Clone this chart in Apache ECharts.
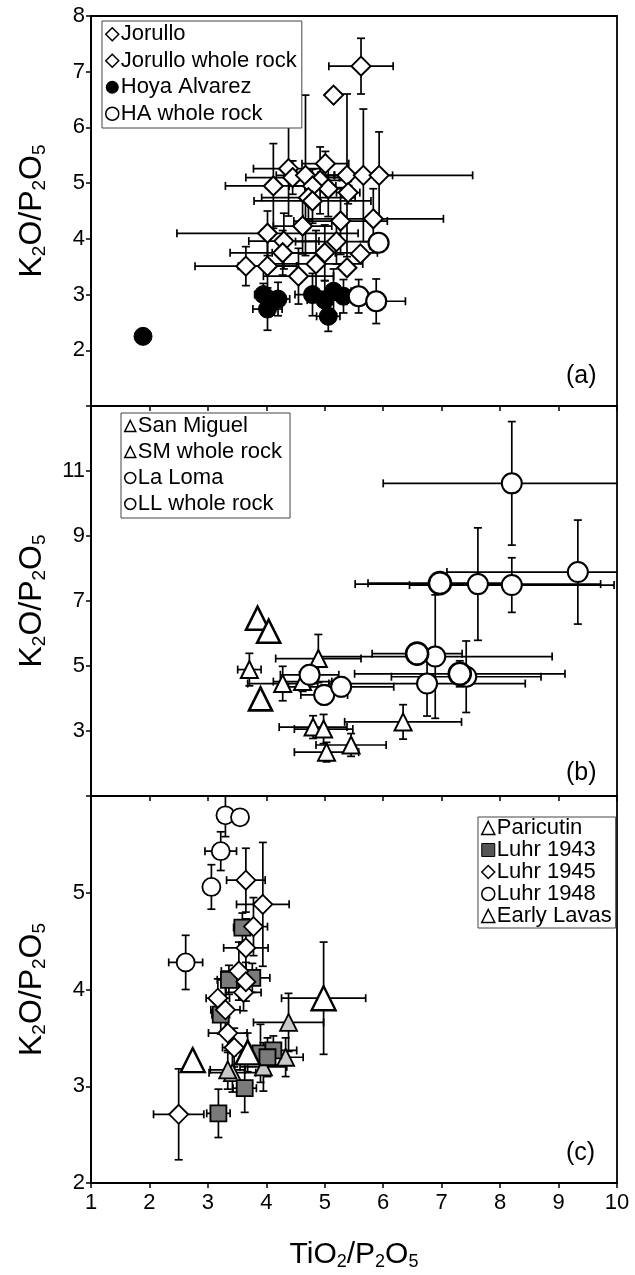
<!DOCTYPE html>
<html><head><meta charset="utf-8">
<script src="https://cdn.jsdelivr.net/npm/echarts@6/dist/echarts.min.js"></script>
<style>html,body{margin:0;padding:0;background:#fff}#c{width:635px;height:1275px}</style>
</head><body><div id="c"></div>
<script>
// ---------- tick labels ----------
const xTickLabels = [1, 2, 3, 4, 5, 6, 7, 8, 9, 10];
const yTickLabelsA = [2, 3, 4, 5, 6, 7, 8];
const yTickLabelsB = [3, 5, 7, 9, 11];
const yTickLabelsC = [2, 3, 4, 5];
const panelLabels = ['(a)', '(b)', '(c)'];

// ---------- data: [TiO2/P2O5, K2O/P2O5, xErr, yErr] ----------
// Panel (a)
const jorullo = [
  [5.62, 7.10, 0.55, 0.50], [4.12, 4.95, 0.82, 0.76], [4.38, 5.26, 0.60, 0.85],
  [4.45, 5.10, 0.80, 0.30], [4.67, 5.14, 0.50, 1.44], [5.01, 5.35, 0.40, 0.22],
  [5.38, 5.14, 0.50, 1.46], [5.66, 5.14, 0.50, 1.19], [5.93, 5.14, 1.60, 0.78],
  [4.92, 5.05, 0.50, 0.60], [5.06, 4.90, 0.40, 0.50], [4.79, 4.95, 0.40, 0.30],
  [4.72, 4.74, 0.80, 0.40], [4.79, 4.68, 1.00, 0.40], [5.40, 4.83, 0.20, 0.20],
  [4.62, 4.23, 0.50, 0.50], [5.27, 4.32, 0.80, 0.60], [5.83, 4.36, 1.20, 0.54],
  [4.02, 4.10, 1.55, 0.40], [4.30, 3.96, 0.60, 0.50], [4.28, 3.75, 0.90, 0.40],
  [3.65, 3.51, 0.87, 0.35], [4.02, 3.51, 0.50, 0.60], [4.55, 3.33, 0.60, 0.50],
  [5.00, 3.75, 0.90, 0.50], [4.85, 3.55, 0.80, 0.60], [5.20, 3.95, 0.70, 0.40]
];
const jorulloWR = [[5.15, 6.58], [5.61, 3.73], [5.38, 3.48]];
const hoyaAlvarez = [
  [1.89, 2.25, 0, 0], [3.95, 3.00, 0.15, 0.20], [4.02, 2.74, 0.25, 0.38],
  [4.20, 2.92, 0.20, 0.30], [4.79, 3.00, 0.30, 0.38], [5.06, 2.61, 0.20, 0.27],
  [5.15, 3.06, 0.30, 0.40], [5.32, 2.97, 0.30, 0.30], [5.00, 2.90, 0.30, 0.35]
];
const haWR = [[5.92, 3.93, 0, 0], [5.58, 2.97, 0.30, 0.30], [5.88, 2.88, 0.50, 0.40]];

// Panel (b)
const sanMiguel = [
  [3.71, 4.89, 0.20, 0.50], [4.28, 4.46, 0.60, 0.53], [4.89, 5.23, 0.73, 0.74],
  [4.62, 4.52, 0.50, 0.30], [4.80, 3.12, 0.58, 0.35], [4.98, 3.06, 0.50, 0.45],
  [5.03, 2.35, 0.55, 0.30], [5.45, 2.57, 0.60, 0.35], [6.34, 3.28, 1.00, 0.53]
];
const smWR = [[3.85, 6.47], [4.04, 6.07], [3.90, 3.99]];
const laLoma = [
  [4.74, 4.73, 0.50, 0.30], [4.99, 4.11, 0.40, 0.30], [5.28, 4.36, 0.90, 0.30],
  [8.20, 10.62, 2.20, 1.90], [7.62, 7.52, 2.10, 1.73], [8.20, 7.49, 1.75, 0.84],
  [9.33, 7.89, 2.24, 1.60], [6.89, 5.29, 2.00, 1.90], [7.42, 4.67, 1.28, 1.10],
  [6.75, 4.46, 1.68, 1.00]
];
const llWR = [[6.97, 7.55, 1.23, 0], [6.58, 5.38, 0.77, 0.30], [7.31, 4.76, 1.80, 0.40]];

// Panel (c)
const paricutin = [
  [4.38, 3.66, 0.60, 0.30], [3.42, 3.14, 0.40, 0.20], [3.95, 3.20, 0.40, 0.25],
  [4.33, 3.30, 0.30, 0.20], [3.34, 3.17, 0.30, 0.20]
];
const luhr1943 = [
  [3.59, 4.64, 0.15, 0.15], [3.36, 4.10, 0.20, 0.15], [3.76, 4.12, 0.30, 0.15],
  [3.22, 3.74, 0.15, 0.20], [3.63, 2.98, 0.20, 0.25], [3.18, 2.72, 0.20, 0.25],
  [3.90, 3.34, 0.30, 0.30], [4.12, 3.37, 0.40, 0.15], [4.02, 3.30, 0.30, 0.20]
];
const luhr1945 = [
  [3.65, 5.13, 0.33, 0.33], [3.94, 4.88, 0.45, 0.64], [3.78, 4.65, 0.24, 0.30],
  [3.65, 4.43, 0.38, 0.30], [3.53, 4.19, 0.30, 0.30], [3.61, 3.97, 0.30, 0.19],
  [3.17, 3.91, 0.20, 0.20], [3.30, 3.79, 0.25, 0.25], [3.34, 3.55, 0.33, 0.20],
  [3.45, 3.40, 0.20, 0.20], [3.65, 4.08, 0.20, 0.20], [2.50, 2.71, 0.43, 0.47]
];
const luhr1948 = [
  [3.30, 5.80, 0.10, 0.22], [3.55, 5.78, 0, 0], [3.22, 5.43, 0.27, 0.20],
  [3.06, 5.06, 0.10, 0.23], [2.62, 4.28, 0.29, 0.28]
];
const earlyLavas = [[2.74, 3.27, 0, 0], [4.98, 3.91, 0.72, 0.58], [3.68, 3.35, 0.20, 0.20]];

// ---------- layout ----------
const FONT = '"Liberation Sans", Arial, Helvetica, sans-serif';
const gridLeft = 91, gridWidth = 526;
const grids = [
  { left: gridLeft, top: 16, width: gridWidth, height: 390 },
  { left: gridLeft, top: 406, width: gridWidth, height: 390 },
  { left: gridLeft, top: 796, width: gridWidth, height: 387 }
];
const yRanges = [
  { min: 1, max: 8, interval: 1, labels: yTickLabelsA },
  { min: 1, max: 13, interval: 2, labels: yTickLabelsB },
  { min: 2, max: 6, interval: 1, labels: yTickLabelsC }
];

function errRender(params, api) {
  const x = api.value(0), y = api.value(1), xe = api.value(2), ye = api.value(3);
  const style = { stroke: '#000', lineWidth: 1.7 };
  const cap = 4;
  const ch = [];
  if (xe > 0) {
    const l = api.coord([x - xe, y]), r = api.coord([x + xe, y]);
    ch.push({ type: 'line', shape: { x1: l[0], y1: l[1], x2: r[0], y2: r[1] }, style });
    ch.push({ type: 'line', shape: { x1: l[0], y1: l[1] - cap, x2: l[0], y2: l[1] + cap }, style });
    ch.push({ type: 'line', shape: { x1: r[0], y1: r[1] - cap, x2: r[0], y2: r[1] + cap }, style });
  }
  if (ye > 0) {
    const t = api.coord([x, y + ye]), b = api.coord([x, y - ye]);
    ch.push({ type: 'line', shape: { x1: t[0], y1: t[1], x2: b[0], y2: b[1] }, style });
    ch.push({ type: 'line', shape: { x1: t[0] - cap, y1: t[1], x2: t[0] + cap, y2: t[1] }, style });
    ch.push({ type: 'line', shape: { x1: b[0] - cap, y1: b[1], x2: b[0] + cap, y2: b[1] }, style });
  }
  return { type: 'group', children: ch };
}
function errSeries(data, gi) {
  return { type: 'custom', xAxisIndex: gi, yAxisIndex: gi, data: data.filter(d => d.length > 2),
    renderItem: errRender, clip: true, silent: true, z: 1, encode: { x: 0, y: 1 } };
}
function markSeries(name, data, gi, symbol, size, fill, bw) {
  return { type: 'scatter', name, xAxisIndex: gi, yAxisIndex: gi,
    data: data.map(d => [d[0], d[1]]), symbol, symbolSize: size,
    itemStyle: { color: fill, borderColor: '#000', borderWidth: bw, opacity: 1 },
    emphasis: { disabled: true }, z: 3 };
}

const series = [
  errSeries(jorullo, 0), errSeries(hoyaAlvarez, 0), errSeries(haWR, 0),
  markSeries('Jorullo', jorullo, 0, 'diamond', 19, '#fff', 2),
  markSeries('Jorullo whole rock', jorulloWR, 0, 'diamond', 19, '#fff', 2),
  markSeries('Hoya Alvarez', hoyaAlvarez, 0, 'circle', 18, '#000', 1),
  markSeries('HA whole rock', haWR, 0, 'circle', 20, '#fff', 2.2),

  errSeries(sanMiguel, 1), errSeries(laLoma, 1), errSeries(llWR, 1),
  markSeries('San Miguel', sanMiguel, 1, 'triangle', 17, '#fff', 2),
  markSeries('SM whole rock', smWR, 1, 'triangle', 23, '#fff', 2.6),
  markSeries('La Loma', laLoma, 1, 'circle', 20, '#fff', 2),
  markSeries('LL whole rock', llWR, 1, 'circle', 22, '#fff', 2.6),

  errSeries(paricutin, 2), errSeries(luhr1943, 2), errSeries(luhr1945, 2),
  errSeries(luhr1948, 2), errSeries(earlyLavas, 2),
  markSeries('Paricutin', paricutin, 2, 'triangle', 17, '#c8c8c8', 1.8),
  markSeries('Luhr 1943', luhr1943, 2, 'rect', 16, '#7a7a7a', 1.8),
  markSeries('Luhr 1945', luhr1945, 2, 'diamond', 19, '#fff', 1.8),
  markSeries('Luhr 1948', luhr1948, 2, 'circle', 18, '#fff', 1.8),
  markSeries('Early Lavas', earlyLavas, 2, 'triangle', 24, '#fff', 2.4)
];

const yName = '{m|K}{s|2}{m|O/P}{s|2}{m|O}{s|5}';
const xName = '{m|TiO}{s|2}{m|/P}{s|2}{m|O}{s|5}';
const yRich = {
  m: { fontSize: 32, fontFamily: FONT, color: '#000', lineHeight: 34 },
  s: { fontSize: 19, fontFamily: FONT, color: '#000', lineHeight: 17, verticalAlign: 'bottom' }
};
const xRich = {
  m: { fontSize: 30, fontFamily: FONT, color: '#000', lineHeight: 32 },
  s: { fontSize: 18, fontFamily: FONT, color: '#000', lineHeight: 16, verticalAlign: 'bottom' }
};

const xAxes = grids.map((g, i) => ({
  gridIndex: i, type: 'value', min: 1, max: 10, interval: 1,
  axisLine: { show: true, onZero: false, lineStyle: { color: '#000', width: 1.8 } },
  axisTick: { show: true, length: 5, lineStyle: { color: '#000', width: 1.5 } },
  axisLabel: { show: i === 2, color: '#000', fontSize: 22, fontFamily: FONT, margin: 9,
    formatter: v => xTickLabels.includes(v) ? String(v) : '' },
  splitLine: { show: false },
  name: i === 2 ? xName : '', nameLocation: 'middle', nameGap: 56,
  nameTextStyle: { rich: xRich }
}));
const yAxes = yRanges.map((r, i) => ({
  gridIndex: i, type: 'value', min: r.min, max: r.max, interval: r.interval,
  axisLine: { show: true, onZero: false, lineStyle: { color: '#000', width: 1.8 } },
  axisTick: { show: true, length: 5, lineStyle: { color: '#000', width: 1.5 } },
  axisLabel: { color: '#000', fontSize: 22, fontFamily: FONT, margin: 6,
    formatter: v => r.labels.includes(v) ? String(v) : '' },
  splitLine: { show: false },
  name: yName, nameLocation: 'middle', nameGap: 42, nameRotate: 90,
  nameTextStyle: { rich: yRich }
}));

function legendItem(name, icon, fill, bw) {
  return { name, icon, itemStyle: { color: fill, borderColor: '#000', borderWidth: bw } };
}
const legends = [
  { left: 102, top: 21, data: [
      legendItem('Jorullo', 'diamond', '#fff', 1.5), legendItem('Jorullo whole rock', 'diamond', '#fff', 1.5),
      legendItem('Hoya Alvarez', 'circle', '#000', 0), legendItem('HA whole rock', 'circle', '#fff', 1.5)],
    lh: 26.5, fs: 22, iw: 13, pad: [0, 5, 1, 3] },
  { left: 121, top: 413, data: [
      legendItem('San Miguel', 'triangle', '#fff', 1.5), legendItem('SM whole rock', 'triangle', '#fff', 1.5),
      legendItem('La Loma', 'circle', '#fff', 1.5), legendItem('LL whole rock', 'circle', '#fff', 1.5)],
    lh: 26, fs: 22, iw: 11, pad: [0, 8, 1, 3] },
  { left: 478, top: 817, data: [
      legendItem('Paricutin', 'triangle', '#fff', 1.5), legendItem('Luhr 1943', 'rect', '#555', 1),
      legendItem('Luhr 1945', 'diamond', '#fff', 1.5), legendItem('Luhr 1948', 'circle', '#fff', 1.5),
      legendItem('Early Lavas', 'triangle', '#fff', 1.5)],
    lh: 21.5, fs: 22, iw: 13, pad: [0, 4, 1, 3] }
].map(l => ({
  left: l.left, top: l.top, orient: 'vertical', data: l.data, itemGap: 0,
  itemWidth: l.iw, itemHeight: l.iw, padding: l.pad, selectedMode: false,
  backgroundColor: '#fff', borderColor: '#444', borderWidth: 1, z: 10,
  textStyle: { fontSize: l.fs, fontFamily: FONT, color: '#000', lineHeight: l.lh, padding: [0, 0, 0, -3] }
}));

const labelPos = [[582, 378], [582, 775], [582, 1155]];
const graphics = panelLabels.map((t, i) => ({
  type: 'text', left: labelPos[i][0] - 16, top: labelPos[i][1] - 14, z: 20,
  style: { text: t, fontSize: 25, fontFamily: FONT, fill: '#000' }
}));

const chart = echarts.init(document.getElementById('c'), null, { renderer: 'canvas' });
chart.setOption({
  animation: false,
  backgroundColor: '#fff',
  grid: grids.map(g => Object.assign({ show: true, borderColor: '#000', borderWidth: 1.8,
    backgroundColor: 'transparent', containLabel: false }, g)),
  xAxis: xAxes, yAxis: yAxes, legend: legends, series, graphic: graphics
});
</script></body></html>
